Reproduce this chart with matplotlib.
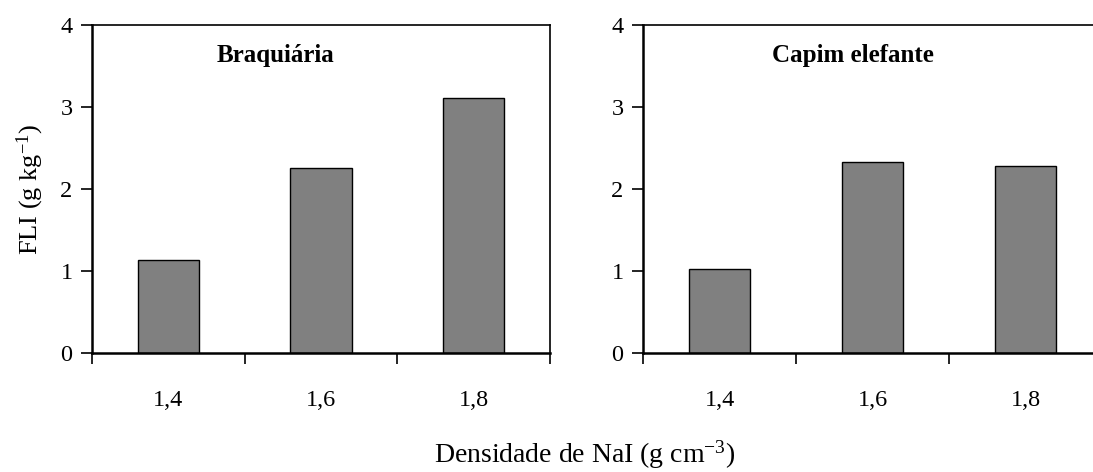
import matplotlib
matplotlib.use("Agg")
import matplotlib.pyplot as plt
import numpy as np

categories = ["1,4", "1,6", "1,8"]
braquiaria = [1.14, 2.26, 3.11]
capim = [1.03, 2.33, 2.28]
titles = ["Braquiária", "Capim elefante"]
yticks = [0, 1, 2, 3, 4]

plt.rcParams['font.family'] = ['Liberation Serif', 'DejaVu Serif']
plt.rcParams['mathtext.fontset'] = 'custom'
plt.rcParams['mathtext.rm'] = 'Liberation Serif'
plt.rcParams['mathtext.it'] = 'Liberation Serif:italic'
plt.rcParams['mathtext.bf'] = 'Liberation Serif:bold'

fig = plt.figure(figsize=(10.93, 4.72), dpi=100)
W, H = 1093, 472
ax1 = fig.add_axes([92 / W, 1 - 353 / H, 458 / W, 328 / H])
ax2 = fig.add_axes([643 / W, 1 - 353 / H, 459 / W, 328 / H])

x = np.arange(len(categories))
for ax, vals, title, tx in [(ax1, braquiaria, titles[0], 0.40), (ax2, capim, titles[1], 0.457)]:
    ax.bar(x, vals, width=0.4, color="#808080", edgecolor="black", linewidth=1.0, zorder=2)
    ax.set_xlim(-0.5, 2.5)
    ax.set_ylim(0, 4)
    ax.set_yticks(yticks)
    ax.set_yticklabels([str(t) for t in yticks], fontsize=17.5)
    ax.set_xticks([-0.5, 0.5, 1.5, 2.5])
    ax.set_xticklabels([])
    ax.tick_params(axis='x', which='major', direction='out', length=8, width=1.2)
    ax.set_xticks(x, minor=True)
    ax.set_xticklabels(categories, minor=True, fontsize=17.5)
    ax.tick_params(axis='x', which='minor', length=0, pad=27)
    ax.tick_params(axis='y', direction='out', length=8, width=1.2, pad=6)
    for s in ax.spines.values():
        s.set_linewidth(1.2)
    ax.spines['bottom'].set_linewidth(1.8)
    ax.spines['left'].set_linewidth(1.8)
    ax.text(tx, 0.908, title, transform=ax.transAxes, ha='center', va='center',
            fontsize=18, fontweight='bold')

ax1.set_ylabel("FLI (g kg$^{-1}$)", fontsize=19, labelpad=10)
fig.text(585 / W, 1 - 455 / H, "Densidade de NaI (g cm$^{-3}$)", ha='center', va='center', fontsize=20)

fig.savefig("out.png", dpi=100)
